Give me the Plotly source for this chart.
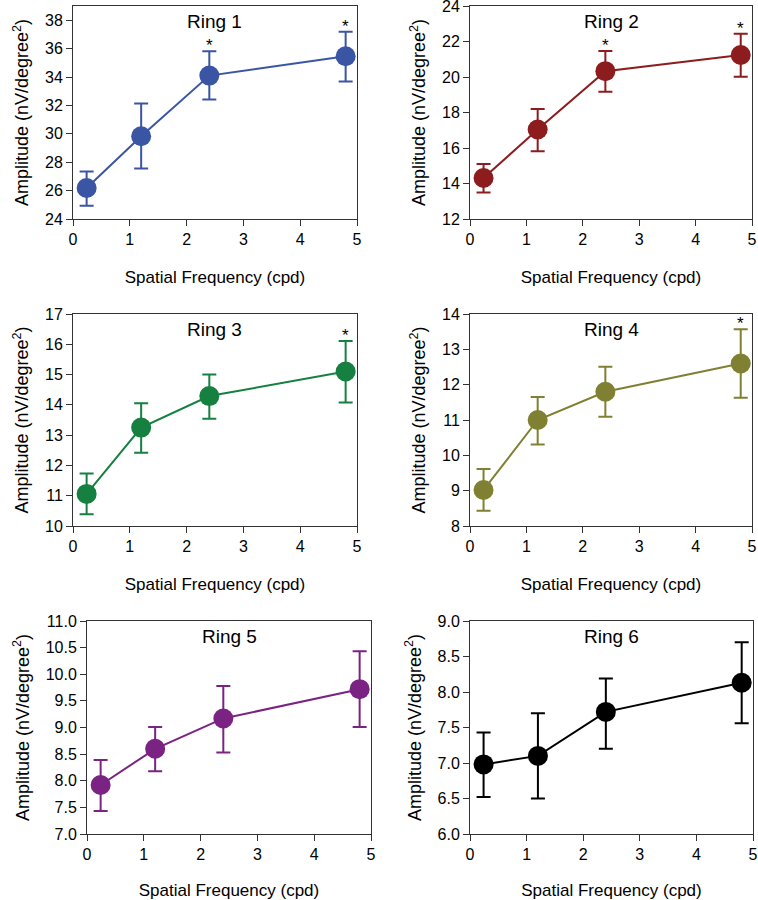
import plotly.graph_objects as go
from plotly.subplots import make_subplots

freq = [0.24, 1.2, 2.4, 4.8]

ring_names = ["Ring 1", "Ring 2", "Ring 3", "Ring 4", "Ring 5", "Ring 6"]
ring_colors = ["#3a55a3", "#8c1c1e", "#15803f", "#808033", "#7a2382", "#000000"]

amp1 = [26.18, 29.83, 34.10, 35.46]
amp2 = [14.31, 17.04, 20.33, 21.24]
amp3 = [11.06, 13.25, 14.29, 15.10]
amp4 = [9.02, 11.00, 11.80, 12.60]
amp5 = [7.92, 8.60, 9.17, 9.72]
amp6 = [6.98, 7.10, 7.72, 8.13]

err_up1 = [1.16, 2.30, 1.72, 1.72]
err_dn1 = [1.24, 2.28, 1.69, 1.78]
err_up2 = [0.79, 1.16, 1.13, 1.20]
err_dn2 = [0.81, 1.22, 1.16, 1.23]
err_up3 = [0.67, 0.80, 0.71, 1.01]
err_dn3 = [0.67, 0.83, 0.75, 1.02]
err_up4 = [0.59, 0.65, 0.71, 0.97]
err_dn4 = [0.59, 0.69, 0.71, 0.97]
err_up5 = [0.47, 0.41, 0.61, 0.71]
err_dn5 = [0.49, 0.42, 0.64, 0.71]
err_up6 = [0.45, 0.60, 0.47, 0.57]
err_dn6 = [0.46, 0.60, 0.52, 0.57]

# frequencies marked with a significance star
stars = [[2.4, 4.8], [2.4, 4.8], [4.8], [4.8], [], []]

y_ranges = [[24, 39], [12, 24], [10, 17], [8, 14], [7, 11], [6, 9]]
y_dticks = [2, 2, 1, 1, 0.5, 0.5]
y_formats = ["", "", "", "", ".1f", ".1f"]

amps = [amp1, amp2, amp3, amp4, amp5, amp6]
ups = [err_up1, err_up2, err_up3, err_up4, err_up5, err_up6]
dns = [err_dn1, err_dn2, err_dn3, err_dn4, err_dn5, err_dn6]

W, H = 758, 900
x_doms = [[73, 357], [470, 752], [73, 357], [470, 752], [87, 371], [470, 753]]
y_doms = [[6, 219], [6, 219], [314, 526], [314, 526], [621, 834], [621, 834]]

fig = make_subplots(rows=3, cols=2)
font = "Liberation Sans, Arial, sans-serif"

for i in range(6):
    r, c = i // 2 + 1, i % 2 + 1
    col = ring_colors[i]
    fig.add_trace(go.Scatter(
        x=freq, y=amps[i], mode="lines+markers",
        line=dict(color=col, width=2),
        marker=dict(color=col, size=20),
        error_y=dict(type="data", symmetric=False, array=ups[i], arrayminus=dns[i],
                     color=col, thickness=2, width=7),
        showlegend=False,
    ), row=r, col=c)

    fig.update_xaxes(row=r, col=c,
        domain=[x_doms[i][0] / W, x_doms[i][1] / W],
        range=[0, 5], dtick=1, tick0=0, automargin=False, ticklabeloverflow="allow",
        ticks="outside", ticklen=6, tickcolor="#333", tickwidth=1,
        showline=True, linecolor="#333", linewidth=1, mirror=True,
        showgrid=False, zeroline=False,
        tickfont=dict(size=16, color="black", family=font),
        title=dict(text="Spatial Frequency (cpd)", standoff=23,
                   font=dict(size=17, color="black", family=font)),
    )
    fig.update_yaxes(row=r, col=c,
        domain=[1 - y_doms[i][1] / H, 1 - y_doms[i][0] / H],
        range=y_ranges[i], dtick=y_dticks[i], tick0=0, tickformat=y_formats[i],
        automargin=False, ticklabeloverflow="allow",
        ticks="outside", ticklen=6, tickcolor="#333", tickwidth=1,
        showline=True, linecolor="#333", linewidth=1, mirror=True,
        showgrid=False, zeroline=False,
        tickfont=dict(size=16, color="black", family=font),
        title=dict(text="Amplitude (nV/degree<sup>2</sup>)", standoff=11,
                   font=dict(size=18, color="black", family=font)),
    )

    xa = "x" if i == 0 else "x%d" % (i + 1)
    ya = "y" if i == 0 else "y%d" % (i + 1)
    fig.add_annotation(text=ring_names[i], xref=xa + " domain", yref=ya + " domain",
                       x=0.5, y=0.985, xanchor="center", yanchor="top", showarrow=False,
                       font=dict(size=19, color="black", family=font))
    for f in stars[i]:
        k = freq.index(f)
        fig.add_annotation(text="*", xref=xa, yref=ya, x=f, y=amps[i][k] + ups[i][k],
                           xanchor="center", yanchor="bottom", yshift=-6, showarrow=False,
                           font=dict(size=17, color="black", family=font))

fig.update_layout(width=W, height=H, margin=dict(l=0, r=0, t=0, b=0),
                  plot_bgcolor="white", paper_bgcolor="white",
                  font=dict(family=font, color="black"))

# drop the browser's default 8px body margin so the figure sits at the page corner
fig.write_html("out.html", config={"displayModeBar": False},
               post_script="document.body.style.margin='0';")
